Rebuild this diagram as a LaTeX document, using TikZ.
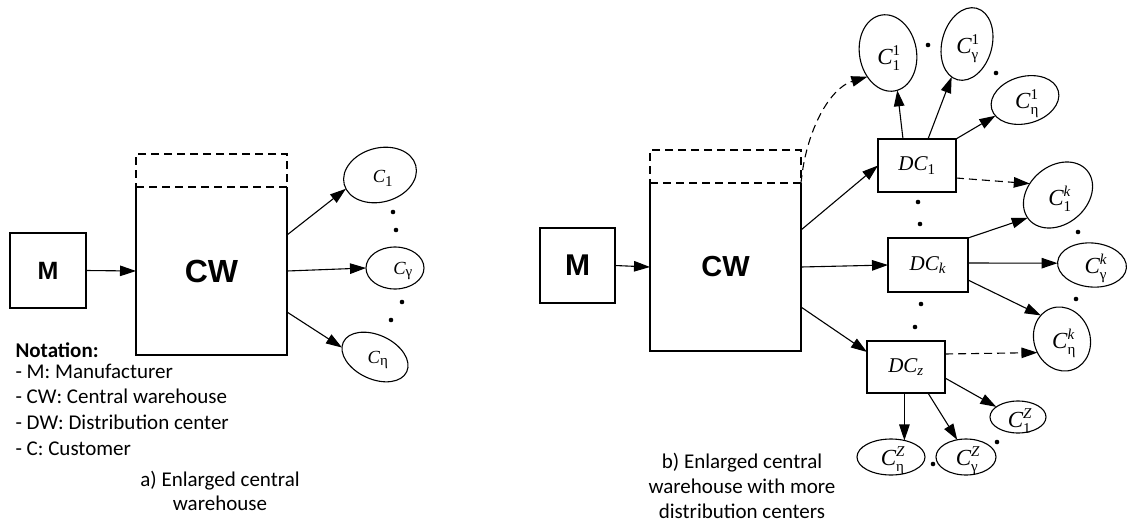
\documentclass[tikz,border=0pt]{standalone}
\usepackage{fontspec}
\setmainfont{Carlito}
\newfontfamily\tnr{Liberation Serif}
\newfontfamily\arl{Liberation Sans}
\usetikzlibrary{arrows.meta,shapes.geometric}
\newcommand{\ssz}[2]{\hbox{\fontsize{#1}{#1}\selectfont #2}}
\newcommand{\CS}[1]{$\textit{C}_{\ssz{15}{#1}}$}
\newcommand{\CB}[2]{$\textit{C}^{\ssz{15}{#2}}_{\ssz{15}{#1}}$}
\newcommand{\DCL}[1]{$\textit{DC}_{\ssz{15}{#1}}$}
\begin{document}
\begin{tikzpicture}[x=1pt,y=-1pt, line width=1.1pt,
  box/.style={draw, inner sep=0pt, outer sep=0pt},
  openbox/.style={inner sep=0pt, outer sep=0pt},
  dbox/.style={draw, dash pattern=on 8pt off 5pt, inner sep=0pt, outer sep=0pt},
  ell/.style={draw, ellipse, inner sep=0pt, outer sep=0pt},
  conn/.style={-{Triangle[length=16pt,width=10.5pt]}},
  dconn/.style={conn, dash pattern=on 8pt off 5pt},
  bigsans/.style={font=\arl\bfseries\fontsize{#1}{#1}\selectfont},
  clab/.style={font=\tnr\fontsize{#1}{#1}\selectfont, inner sep=0pt},
  txt/.style={font=\fontsize{21}{25}\selectfont, inner sep=0pt},
  btxt/.style={font=\bfseries\fontsize{21}{25}\selectfont, inner sep=0pt},
]
\useasboundingbox (0,0) rectangle (1127,525);

% ---------------- left: a) ----------------
\node[box, minimum width=76pt, minimum height=75pt, bigsans=25] (m1) at (48,270.5) {M};
\node[openbox, minimum width=151pt, minimum height=168pt, bigsans=32] (cw1) at (211.5,271) {CW};
\node[dbox, minimum width=151pt, minimum height=33pt] (cw1x) at (211.5,170.5) {};
\draw (cw1.north west) -- (cw1.south west) -- (cw1.south east) -- (cw1.north east);

\node[ell, minimum width=74pt, minimum height=54pt, rotate=15] (c1) at (380,175) {};
\node[ell, minimum width=58pt, minimum height=42pt] (cg) at (395,268) {};
\node[ell, minimum width=70pt, minimum height=44pt, rotate=-25] (ce) at (375,357) {};
\node[clab=18.5] (c1t) at (383,178) {\CS{1}};
\node[clab=18.5] (cgt) at (403,271) {\CS{γ}};
\node[clab=18.5] (cet) at (378,360) {\CS{η}};

\draw[conn] (m1.east) -- (cw1.west);
\draw[conn] ([yshift=36pt]cw1.east) -- (c1.187);
\draw[conn] (cw1.east) -- (cg.west);
\draw[conn] ([yshift=-41pt]cw1.east) -- (ce.189);

\fill (393,212) circle (2.3pt) (396,230) circle (2.3pt) (402,302) circle (2.3pt) (391,320) circle (2.3pt);

\node[btxt, anchor=base west] (n0) at (15,357) {Notation:};
\node[txt, anchor=base west] (n1) at (15,378) {- M: Manufacturer};
\node[txt, anchor=base west] (n2) at (15,403) {- CW: Central warehouse};
\node[txt, anchor=base west] (n3) at (15,429) {- DW: Distribution center};
\node[txt, anchor=base west] (n4) at (15,455) {- C: Customer};
\node[txt, anchor=base] (ca1) at (220,486) {a) Enlarged central};
\node[txt, anchor=base] (ca2) at (220,510) {warehouse};

% ---------------- right: b) ----------------
\node[box, minimum width=75pt, minimum height=75pt, bigsans=30] (m2) at (577.5,265.5) {M};
\node[openbox, minimum width=151pt, minimum height=168pt, bigsans=29] (cw2) at (725.5,267) {CW};
\node[dbox, minimum width=151pt, minimum height=33pt] (cw2x) at (725.5,166.5) {};
\draw (cw2.north west) -- (cw2.south west) -- (cw2.south east) -- (cw2.north east);

\node[box, minimum width=78pt, minimum height=53pt, clab=21] (dc1) at (917,165.5) {\DCL{1}};
\node[box, minimum width=80pt, minimum height=54pt, clab=21] (dck) at (928,265) {\DCL{\textit{k}}};
\node[box, minimum width=78pt, minimum height=52pt, clab=21] (dcz) at (906,367) {\DCL{\textit{z}}};

% customer ellipses
\node[ell, minimum width=77pt, minimum height=57pt, rotate=100] (r11) at (888,53) {};
\node[ell, minimum width=74pt, minimum height=50pt, rotate=75] (r1g) at (967,44) {};
\node[ell, minimum width=69pt, minimum height=47pt, rotate=15] (r1e) at (1025,100) {};
\node[ell, minimum width=76pt, minimum height=58pt, rotate=40] (rk1) at (1058,195) {};
\node[ell, minimum width=69pt, minimum height=44pt, rotate=-5] (rkg) at (1092,265) {};
\node[ell, minimum width=65pt, minimum height=56pt, rotate=110] (rke) at (1062,339) {};
\node[ell, minimum width=68pt, minimum height=36pt] (rze) at (891,457) {};
\node[ell, minimum width=60pt, minimum height=36pt] (rzg) at (966,457) {};
\node[ell, minimum width=56pt, minimum height=32pt] (rz1) at (1018,417) {};

\node[clab=23] (r11t) at (889,58) {\CB{1}{1}};
\node[clab=23] (r1gt) at (968,49) {\CB{γ}{1}};
\node[clab=23] (r1et) at (1027,104) {\CB{η}{1}};
\node[clab=23] (rk1t) at (1060,199) {\CB{1}{\textit{k}}};
\node[clab=23] (rkgt) at (1096,268) {\CB{γ}{\textit{k}}};
\node[clab=23] (rket) at (1064,343) {\CB{η}{\textit{k}}};
\node[clab=23] (rzet) at (893,461) {\CB{η}{\textit{Z}}};
\node[clab=23] (rzgt) at (968,461) {\CB{γ}{\textit{Z}}};
\node[clab=23] (rz1t) at (1020,421) {\CB{1}{\textit{Z}}};

% connectors
\draw[conn] (m2.east) -- (cw2.west);
\draw[conn] ([yshift=37pt]cw2.east) -- (dc1.west);
\draw[conn] (cw2.east) -- (dck.west);
\draw[conn] ([yshift=-40pt]cw2.east) -- ([yshift=-11pt]dcz.north west);
\draw[dconn] (cw2.north east) .. controls (806,130) and (830,88) .. (r11.129);

\draw[conn] ([xshift=-14pt]dc1.north) -- (r11.184);
\draw[conn] ([xshift=11pt]dc1.north) -- (r1g.170);
\draw[conn] (dc1.north east) -- (r1e.193);
\draw[dconn] ([yshift=-12.5pt]dc1.east) -- (rk1.118);

\draw[conn] (dck.north east) -- (rk1.177);
\draw[conn] ([yshift=2pt]dck.east) -- (rkg.182);
\draw[conn] ([yshift=-15pt]dck.east) -- (rke.22);
\draw[dconn] ([yshift=13pt]dcz.east) -- (rke.99);

\draw[conn] (rze.51 |- dcz.south) -- (rze.51);
\draw[conn] ([xshift=22pt]dcz.south) -- (rzg.117);
\draw[conn] ([yshift=-11pt]dcz.east) -- (rz1.155);

\fill (928,45) circle (2.3pt) (996,73) circle (2.3pt)
      (918,202) circle (2.3pt) (920,224) circle (2.3pt)
      (921,304) circle (2.3pt) (915,327) circle (2.3pt)
      (1078,232) circle (2.3pt) (1076,299) circle (2.3pt)
      (933,464) circle (2.3pt) (997,442) circle (2.3pt);

\node[txt, anchor=base] (cb1) at (742,468) {b) Enlarged central};
\node[txt, anchor=base] (cb2) at (742,493) {warehouse with more};
\node[txt, anchor=base] (cb3) at (742,518) {distribution centers};
\end{tikzpicture}
\end{document}
